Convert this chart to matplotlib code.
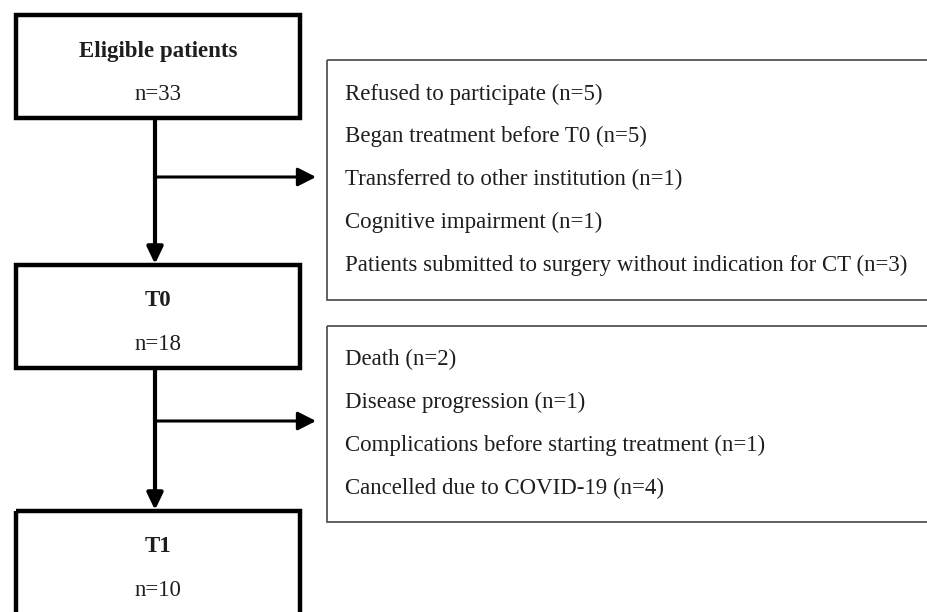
import matplotlib
matplotlib.use("Agg")
import matplotlib.pyplot as plt
from matplotlib.patches import Rectangle

# ---- data ----
stage_names = ["Eligible patients", "T0", "T1"]
stage_counts = [33, 18, 10]
excl1_reasons = ["Refused to participate", "Began treatment before T0",
                 "Transferred to other institution", "Cognitive impairment",
                 "Patients submitted to surgery without indication for CT"]
excl1_counts = [5, 5, 1, 1, 3]
excl2_reasons = ["Death", "Disease progression",
                 "Complications before starting treatment", "Cancelled due to COVID-19"]
excl2_counts = [2, 1, 1, 4]

W, H = 927, 612
fig = plt.figure(figsize=(W / 100, H / 100), dpi=100)
ax = fig.add_axes([0, 0, 1, 1])
ax.set_xlim(0, W)
ax.set_ylim(H, 0)
ax.axis("off")

FONT = "Liberation Serif"
TXT = "#1e1e1e"
FS = 16.5

# main stage boxes (left, top, bottom)
stage_boxes = [(16, 15, 118), (16, 265, 368), (16, 511, 640)]
box_w = 284
for (x0, top, bot), name, n in zip(stage_boxes, stage_names, stage_counts):
    ax.add_patch(Rectangle((x0, top), box_w, bot - top, fill=False,
                           edgecolor="black", linewidth=3.2, zorder=3))
    ax.text(x0 + box_w / 2, top + 36, name, ha="center", va="center",
            fontsize=FS, fontweight="bold", family=FONT, color=TXT)
    ax.text(x0 + box_w / 2, top + 79, f"n={n}", ha="center", va="center",
            fontsize=FS, family=FONT, color=TXT)

# exclusion boxes (open on the right)
excl_boxes = [(327, 60, 300), (327, 326, 522)]
excl_lists = [(excl1_reasons, excl1_counts, 94, 42.8), (excl2_reasons, excl2_counts, 359, 43.3)]
for (x0, top, bot), (reasons, counts, y0, dy) in zip(excl_boxes, excl_lists):
    ax.add_patch(Rectangle((x0, top), 700, bot - top, fill=False,
                           edgecolor="#555555", linewidth=1.3, zorder=3))
    for i, (r, c) in enumerate(zip(reasons, counts)):
        ax.text(x0 + 18, y0 + i * dy, f"{r} (n={c})", ha="left", va="center",
                fontsize=FS, family=FONT, color=TXT)

# vertical arrows
xv = 155
for bot_from, top_to in [(118, 265), (368, 511)]:
    ax.annotate("", xy=(xv, top_to - 1), xytext=(xv, bot_from),
                arrowprops=dict(arrowstyle="-|>,head_length=0.5,head_width=0.24",
                                lw=3.0, color="black",
                                mutation_scale=20, shrinkA=0, shrinkB=0))

# horizontal arrows
for y in [177, 421]:
    ax.annotate("", xy=(316, y), xytext=(xv, y),
                arrowprops=dict(arrowstyle="-|>,head_length=0.55,head_width=0.28",
                                lw=2.2, color="black",
                                mutation_scale=20, shrinkA=0, shrinkB=0))

fig.savefig("out.png", dpi=100)
